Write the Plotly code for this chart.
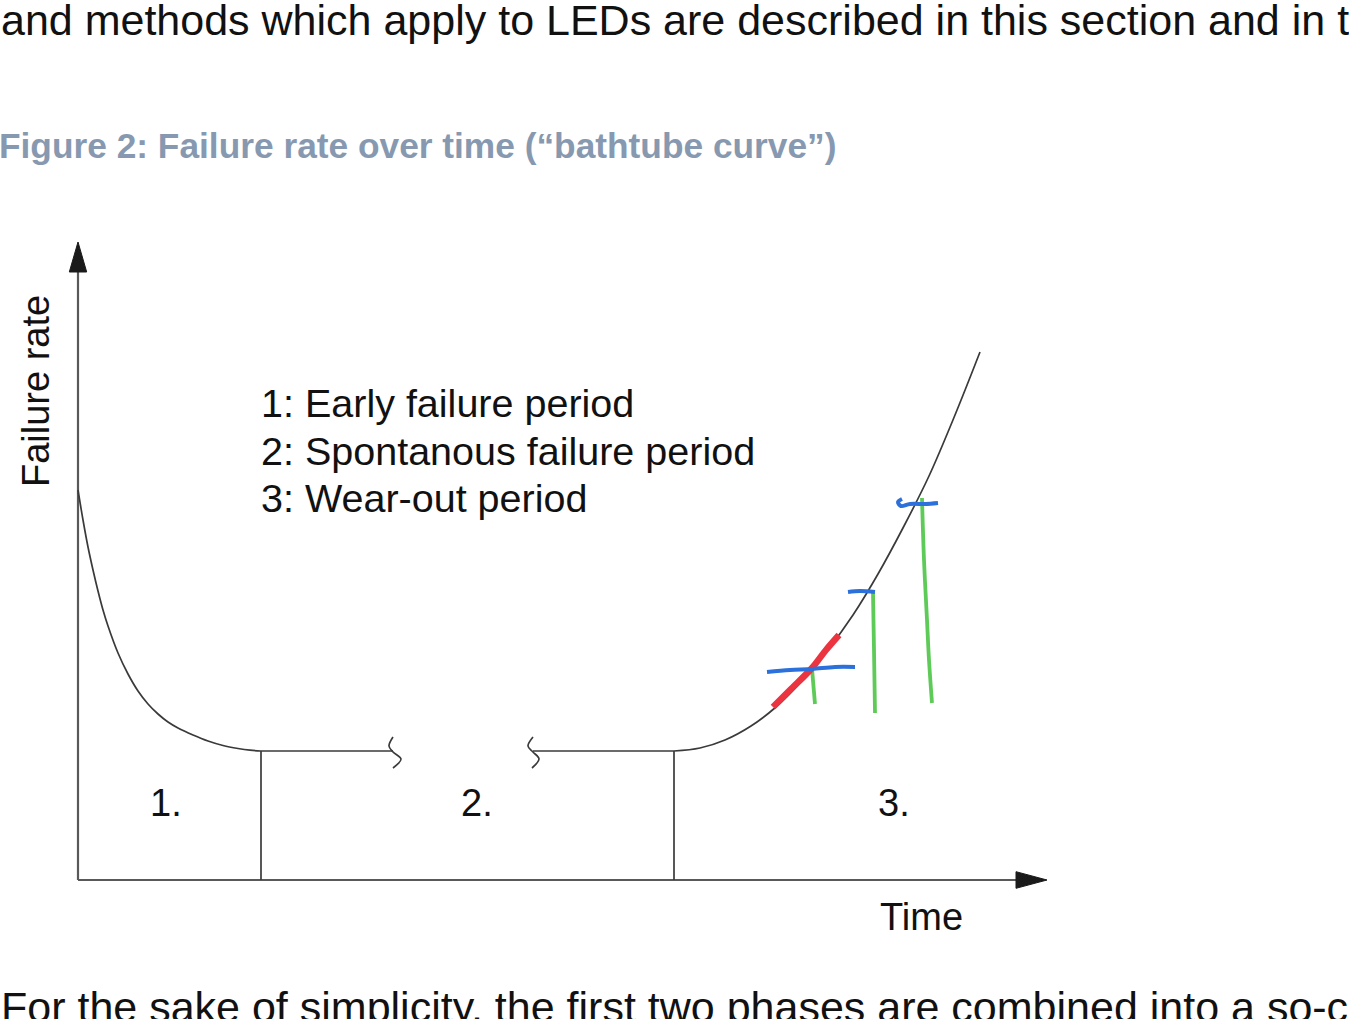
import plotly.graph_objects as go

# ---------------- data (arbitrary units) ----------------
early_t = [0, 0.5, 1, 1.5, 2, 2.5, 3, 4, 5, 6, 7, 8, 9, 10, 11.5, 13, 14.5, 16, 17.2, 18.3]
early_rate = [39.0, 36.0, 33.3, 31.0, 28.9, 27.0, 25.4, 22.7, 20.6, 18.9, 17.6, 16.6, 15.8, 15.2, 14.5, 13.9, 13.45, 13.15, 12.98, 12.9]

flat_rate = 12.9
flat1_t = [18.3, 31.5]
flat2_t = [45.5, 59.6]

wear_t = [59.6, 62.2, 64.7, 67.3, 69.8, 72.4, 74.9, 77.5, 80.0, 82.6, 85.1, 87.7, 90.2]
wear_rate = [12.9, 13.2, 14.0, 15.4, 17.3, 19.9, 22.9, 26.5, 30.6, 35.4, 40.4, 46.5, 52.8]

boundary_t = [18.3, 59.6]

break1_t = [31.5, 31.1, 31.5, 32.3, 31.5]
break2_t = [45.5, 45.0, 45.5, 46.1, 45.4]
break_rate = [14.3, 13.4, 12.8, 12.1, 11.2]

period_labels = ["1.", "2.", "3."]
period_label_t = [8.8, 39.9, 81.6]
period_label_rate = 7.7

legend_lines = ["1: Early failure period", "2: Spontanous failure period", "3: Wear-out period"]
legend_t = 18.1
legend_rate = [47.7, 42.95, 38.2]

time_axis_end = 96.9
rate_axis_end = 63.8

# hand-drawn annotations
red_t = [69.5, 71.2, 73.4, 74.8, 76.1]
red_rate = [17.3, 19.0, 21.2, 23.0, 24.5]

blue1_t = [68.9, 71.2, 73.4, 75.7, 77.7]
blue1_rate = [20.8, 21.0, 21.1, 21.3, 21.3]
blue2_t = [77.0, 78.2, 79.7]
blue2_rate = [28.8, 28.9, 28.8]
blue3_t = [82.4, 82.0, 82.3, 83.2, 84.7, 86.0]
blue3_rate = [38.1, 37.8, 37.4, 37.6, 37.6, 37.7]

green1_t = [73.4, 73.7]
green1_rate = [21.1, 17.6]
green2_t = [79.5, 79.6, 79.7]
green2_rate = [28.7, 23.0, 16.7]
green3_t = [84.4, 84.6, 84.9, 85.1, 85.4]
green3_rate = [38.2, 32.0, 26.0, 22.0, 17.7]

top_text = "and methods which apply to LEDs are described in this section and in t"
figure_title = "Figure 2: Failure rate over time (“bathtube curve”)"
bottom_text = "For the sake of simplicity, the first two phases are combined into a so-c"

# ---------------- figure ----------------
W, H = 1349, 1019
FONT = "Liberation Sans, Arial, Helvetica, sans-serif"
CURVE = "#3a3a3a"
AXIS = "#595959"

fig = go.Figure()

def line(x, y, color, width, shape="linear"):
    fig.add_trace(go.Scatter(x=x, y=y, mode="lines",
                             line=dict(color=color, width=width, shape=shape),
                             hoverinfo="skip", showlegend=False))

# axes with arrowheads
head_len_t, head_half_rate = 3.1, 0.83
head_len_rate, head_half_t = 3.0, 0.87
line([0, 0], [0, rate_axis_end - head_len_rate], AXIS, 2.2)
line([0, time_axis_end - head_len_t], [0, 0], AXIS, 2.2)
fig.add_trace(go.Scatter(
    x=[-head_half_t, head_half_t, 0, -head_half_t],
    y=[rate_axis_end - head_len_rate, rate_axis_end - head_len_rate, rate_axis_end, rate_axis_end - head_len_rate],
    mode="lines", fill="toself", fillcolor="#1a1a1a", line=dict(color="#1a1a1a", width=1),
    hoverinfo="skip", showlegend=False))
fig.add_trace(go.Scatter(
    x=[time_axis_end - head_len_t, time_axis_end - head_len_t, time_axis_end, time_axis_end - head_len_t],
    y=[-head_half_rate, head_half_rate, 0, -head_half_rate],
    mode="lines", fill="toself", fillcolor="#1a1a1a", line=dict(color="#1a1a1a", width=1),
    hoverinfo="skip", showlegend=False))

# phase boundaries
for bt in boundary_t:
    line([bt, bt], [0, flat_rate], CURVE, 1.7)

# bathtub curve pieces
line(early_t, early_rate, CURVE, 1.7, "spline")
line(flat1_t, [flat_rate, flat_rate], CURVE, 1.7)
line(flat2_t, [flat_rate, flat_rate], CURVE, 1.7)
line(wear_t, wear_rate, CURVE, 1.7, "spline")
line(break1_t, break_rate, CURVE, 1.7, "spline")
line(break2_t, break_rate, CURVE, 1.7, "spline")

# hand-drawn marks
RED, BLUE, GREEN = "#ec3440", "#2c70dc", "#5ecb58"
line(green1_t, green1_rate, GREEN, 3.8, "spline")
line(green2_t, green2_rate, GREEN, 3.8, "spline")
line(green3_t, green3_rate, GREEN, 3.8, "spline")
line(red_t, red_rate, RED, 6.5, "spline")
line(blue1_t, blue1_rate, BLUE, 4, "spline")
line(blue2_t, blue2_rate, BLUE, 4, "spline")
line(blue3_t, blue3_rate, BLUE, 4, "spline")

annotations = []
for lab, lt in zip(period_labels, period_label_t):
    annotations.append(dict(x=lt, y=period_label_rate, xref="x", yref="y", text=lab,
                            showarrow=False, xanchor="center", yanchor="middle",
                            font=dict(family=FONT, size=38, color="#111111")))
for txt, lr in zip(legend_lines, legend_rate):
    annotations.append(dict(x=legend_t, y=lr, xref="x", yref="y", text=txt,
                            showarrow=False, xanchor="left", yanchor="middle",
                            font=dict(family=FONT, size=39.5, color="#111111")))
annotations.append(dict(x=-4.2, y=48.9, xref="x", yref="y", text="Failure rate",
                        textangle=-90, showarrow=False, xanchor="center", yanchor="middle",
                        font=dict(family=FONT, size=38, color="#111111")))
annotations.append(dict(x=84.35, y=-3.7, xref="x", yref="y", text="Time",
                        showarrow=False, xanchor="center", yanchor="middle",
                        font=dict(family=FONT, size=38, color="#111111")))

# surrounding document text
annotations.append(dict(x=-1 / W, y=1 - 20 / H, xref="paper", yref="paper",
                        text=top_text,
                        showarrow=False, xanchor="left", yanchor="middle",
                        font=dict(family=FONT, size=43, color="#111111")))
annotations.append(dict(x=-3 / W, y=1 - 145 / H, xref="paper", yref="paper",
                        text="<b>" + figure_title + "</b>",
                        showarrow=False, xanchor="left", yanchor="middle",
                        font=dict(family=FONT, size=35.3, color="#8799b0")))
annotations.append(dict(x=-1 / W, y=1 - 1007 / H, xref="paper", yref="paper",
                        text=bottom_text,
                        showarrow=False, xanchor="left", yanchor="middle",
                        font=dict(family=FONT, size=43, color="#111111")))

fig.update_layout(
    width=W, height=H,
    margin=dict(l=0, r=0, t=0, b=0),
    paper_bgcolor="white", plot_bgcolor="white",
    xaxis=dict(range=[-7.8, 127.1], visible=False, fixedrange=True),
    yaxis=dict(range=[-13.9, 88.0], visible=False, fixedrange=True),
    annotations=annotations,
    showlegend=False,
)

fig.write_html("out.html", config={"displayModeBar": False},
               post_script="document.body.style.margin='0';document.body.style.overflow='hidden';")
